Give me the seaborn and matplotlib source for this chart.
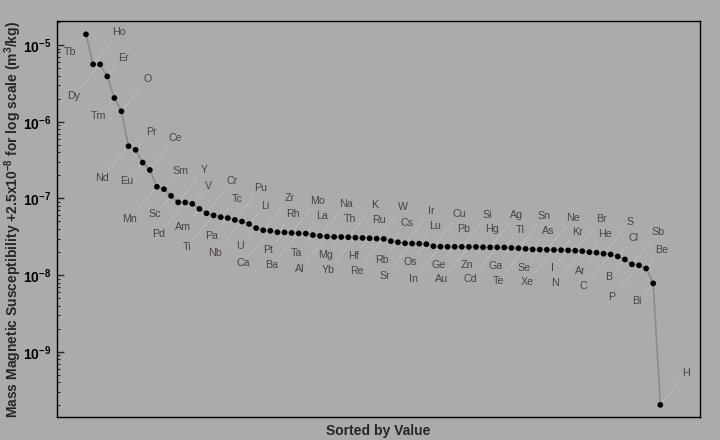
import matplotlib
matplotlib.use("Agg")
import matplotlib.pyplot as plt
import matplotlib.ticker as mticker
import seaborn as sns
import pandas as pd
import numpy as np

elements = ["Tb","Ho","Dy","Er","Tm","O","Nd","Pr","Eu","Ce","Mn","Sm","Sc","Y","Pd","V",
            "Am","Cr","Ti","Tc","Pa","Pu","Nb","Li","U","Zr","Ca","Rh","Pt","Mo","Ba","La",
            "Ta","Na","Al","Th","Mg","K","Yb","Ru","Hf","W","Re","Cs","Rb","Ir","Sr","Lu",
            "Os","Cu","In","Pb","Ge","Si","Au","Hg","Zn","Ag","Cd","Tl","Ga","Sn","Te","As",
            "Se","Ne","Xe","Kr","I","Br","N","He","Ar","S","C","Cl","B","Sb","P","Be","Bi","H"]

values = [1.38e-5, 5.6e-6, 5.6e-6, 3.9e-6, 2.04e-6, 1.37e-6, 4.8e-7, 4.3e-7, 2.93e-7, 2.35e-7,
          1.42e-7, 1.32e-7, 1.08e-7, 8.9e-8, 8.85e-8, 8.5e-8, 7.3e-8, 6.4e-8, 6.0e-8, 5.7e-8,
          5.55e-8, 5.24e-8, 5.0e-8, 4.64e-8, 4.1e-8, 3.84e-8, 3.78e-8, 3.62e-8, 3.6e-8, 3.55e-8,
          3.5e-8, 3.48e-8, 3.33e-8, 3.24e-8, 3.18e-8, 3.15e-8, 3.14e-8, 3.12e-8, 3.08e-8, 3.05e-8,
          3.02e-8, 2.99e-8, 2.96e-8, 2.77e-8, 2.68e-8, 2.6e-8, 2.58e-8, 2.57e-8, 2.53e-8, 2.38e-8,
          2.35e-8, 2.34e-8, 2.34e-8, 2.34e-8, 2.33e-8, 2.33e-8, 2.31e-8, 2.3e-8, 2.3e-8, 2.29e-8,
          2.26e-8, 2.24e-8, 2.2e-8, 2.16e-8, 2.15e-8, 2.14e-8, 2.13e-8, 2.12e-8, 2.1e-8, 2.08e-8,
          2.05e-8, 1.99e-8, 1.96e-8, 1.9e-8, 1.86e-8, 1.75e-8, 1.6e-8, 1.38e-8, 1.34e-8, 1.22e-8,
          7.8e-9, 2.03e-10]

y_ticks = [1e-9, 1e-8, 1e-7, 1e-6, 1e-5]

x_label = "Sorted by Value"
y_label = r"Mass Magnetic Susceptibility +2.5x10$^{-8}$ for log scale (m$^{3}$/kg)"

BG = "#ababab"
sns.set_theme(style="ticks")
plt.rcParams.update({
    "figure.facecolor": BG,
    "axes.facecolor": BG,
    "savefig.facecolor": BG,
    "axes.edgecolor": "black",
    "axes.linewidth": 1.0,
    "mathtext.fontset": "custom",
    "mathtext.rm": "Liberation Sans:bold",
    "mathtext.bf": "Liberation Sans:bold",
    "mathtext.it": "Liberation Sans:bold",
    "mathtext.default": "rm",
})
plt.rcParams["font.family"] = ["Liberation Sans", "DejaVu Sans"]

df = pd.DataFrame({"rank": np.arange(len(values)), "value": values, "element": elements})

fig = plt.figure(figsize=(7.2, 4.4), dpi=100)
ax = fig.add_axes([57/720, 23/440, 643/720, 396/440])

sns.lineplot(data=df, x="rank", y="value", ax=ax, color="#8c8c8c", lw=1.2, zorder=2)
sns.scatterplot(data=df, x="rank", y="value", ax=ax, color="black", s=17,
                edgecolor="none", zorder=4)

ax.set_yscale("log")
ax.set_xlim(-4.09, 86.6)
ax.set_ylim(1.41e-10, 2.06e-5)
ax.yaxis.set_major_locator(mticker.FixedLocator(y_ticks))
ax.yaxis.set_major_formatter(mticker.LogFormatterSciNotation())
ax.yaxis.set_minor_locator(mticker.LogLocator(base=10, subs=np.arange(2, 10)))
ax.yaxis.set_minor_formatter(mticker.NullFormatter())

for i, (el, v) in enumerate(zip(elements, values)):
    if i % 2 == 0:
        off = (-16, -18) if i % 4 == 0 else (-27, -32)
    else:
        off = (26, 32) if i % 4 == 1 else (16, 18)
    ax.annotate(el, xy=(i, v), xytext=off, textcoords="offset pixels",
                ha="center", va="center", fontsize=7.7, color="#4a4242",
                arrowprops=dict(arrowstyle="-", color="#bdbdbd", lw=0.6,
                                shrinkA=0, shrinkB=2.5),
                zorder=3)

ax.set_xticks([])
ax.tick_params(axis="y", which="major", direction="in", length=5, width=1,
               left=True, right=False, labelsize=10, labelcolor="black", pad=4)
ax.tick_params(axis="y", which="minor", direction="in", length=2.2, width=0.8,
               left=True, right=False)
for lab in ax.get_yticklabels():
    lab.set_fontweight("bold")

ax.set_xlabel(x_label, fontsize=10, fontweight="bold", labelpad=5)
ax.set_ylabel(y_label, fontsize=10, fontweight="bold")
ax.yaxis.set_label_coords(-0.051, 0.5)
for s in ax.spines.values():
    s.set_visible(True)
    s.set_color("black")

fig.savefig("out.png", dpi=100, facecolor=BG)
